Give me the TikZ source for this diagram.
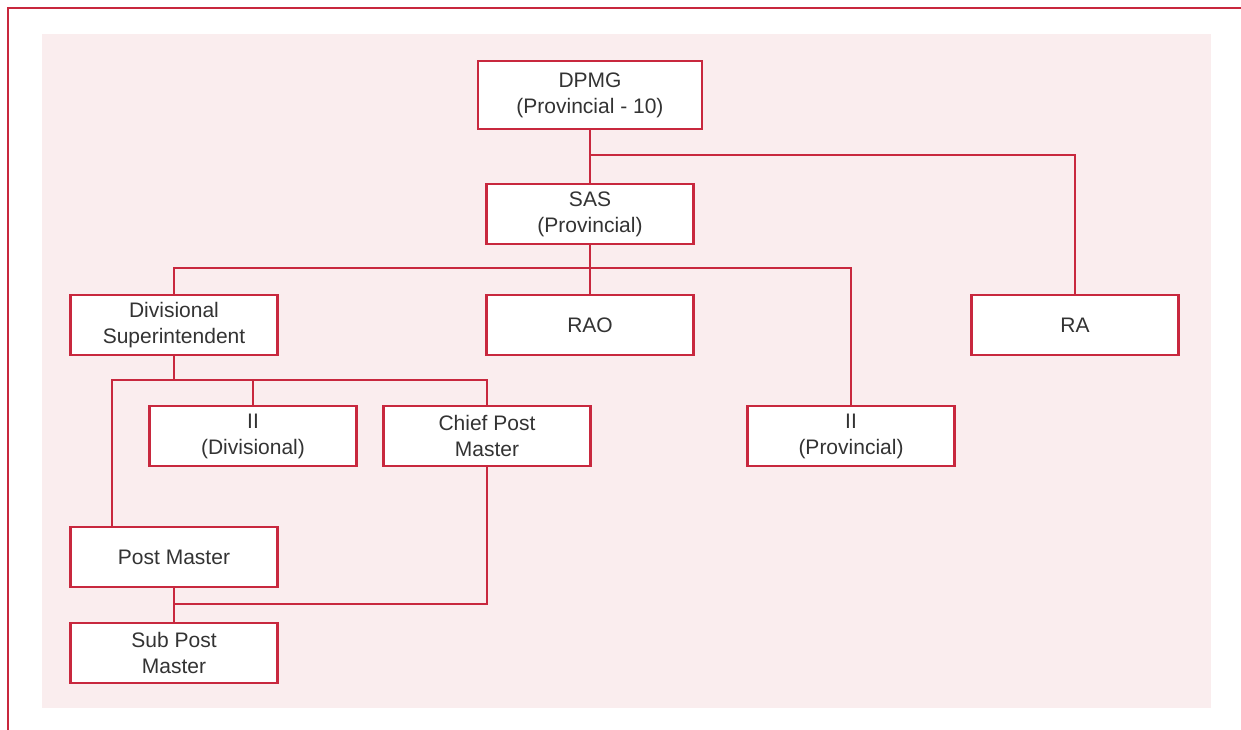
\documentclass[tikz,border=0pt]{standalone}
\usepackage{fontspec}
\setmainfont{Liberation Sans}
\definecolor{chartred}{HTML}{C8283E}
\definecolor{chartpink}{HTML}{FAEDEE}
\definecolor{charttext}{HTML}{333333}
\tikzset{
  post/.style={draw=chartred, fill=white, line width=2.5pt, minimum width=207pt,
    minimum height=60pt, align=center, inner sep=0pt, text=charttext,
    font=\fontsize{21}{26}\selectfont},
  link/.style={draw=chartred, line width=2.5pt}
}

\begin{document}
\begin{tikzpicture}[x=1pt,y=-1pt]
\useasboundingbox (0,0) rectangle (1241,730);
% frame and background
\fill[chartpink] (42,34) rectangle (1211,708);
\draw[chartred, line width=2.5pt] (8,730) -- (8,8) -- (1241,8);
            % Posts
\node[post, minimum width=224pt, minimum height=68pt] (dpmg) at (590,95) {DPMG\\(Provincial - 10)};
\node[post] (sas) at (590,214) {SAS\\(Provincial)};
\node[post] (divsup) at (174,325) {Divisional\\Superintendent};
\node[post] (rao) at (590,325) {RAO};
\node[post] (ra) at (1075,325) {RA};
\node[post] (iidiv) at (253,436) {II\\(Divisional)};
\node[post] (cpm) at (487,436) {Chief Post\\Master};
\node[post] (iiprov) at (851,436) {II\\(Provincial)};
\node[post] (pm) at (174,557) {Post Master};
\node[post] (spm) at (174,653) {Sub Post\\Master};
%Junctions
\coordinate (j1) at (590,155);
\coordinate (j2) at (590,268);
\coordinate (j3) at (174,380);
\coordinate (j4) at (174,604);
%Links
\draw[link] (dpmg.south) -- (sas.north);
\draw[link] (j1) -| (ra.north);
\draw[link] (sas.south) -- (rao.north);
\draw[link] (j2) -| (divsup.north);
\draw[link] (j2) -| (iiprov.north);
\draw[link] (divsup.south) -- (j3);
\draw[link] (j3) -| (cpm.north);
\draw[link] (j3) -| (iidiv.north);
\draw[link] (j3) -| ([xshift=-62pt]pm.north);
\draw[link] (pm.south) -- (spm.north);
\draw[link] (j4) -| (cpm.south);
\end{tikzpicture}
\end{document}
